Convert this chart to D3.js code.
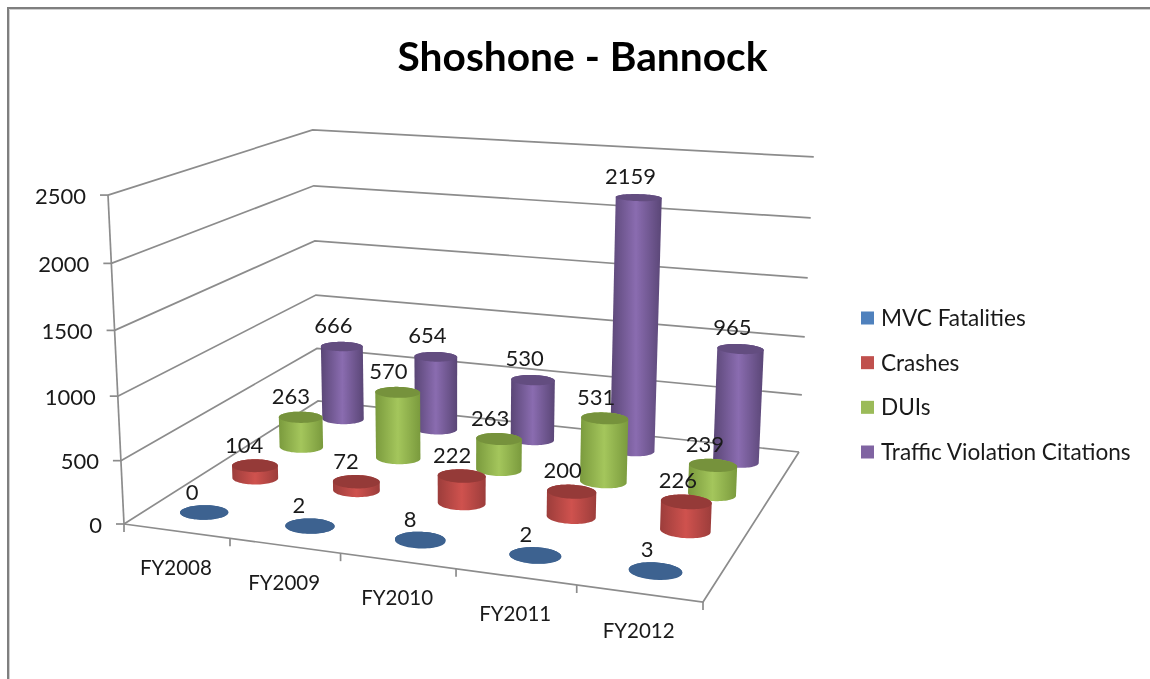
<!DOCTYPE html>
<html>
<head>
<meta charset="utf-8">
<script src="https://cdn.jsdelivr.net/npm/d3@7/dist/d3.min.js"></script>
<style>
html,body{margin:0;padding:0;background:#fff;overflow:hidden}
svg{filter:blur(0.45px)}
text{font-family:Lato,"Open Sans",sans-serif;fill:#1a1a1a}
</style>
</head>
<body>
<svg id="chart" width="1150" height="679"></svg>
<script>
const title = "Shoshone - Bannock";
const categories = ["FY2008","FY2009","FY2010","FY2011","FY2012"];
const seriesNames = ["MVC Fatalities","Crashes","DUIs","Traffic Violation Citations"];
const mvcFatalities = [0,2,8,2,3];
const crashes = [104,72,222,200,226];
const duis = [263,570,263,531,239];
const citations = [666,654,530,2159,965];
const seriesValues = [mvcFatalities,crashes,duis,citations];
const valueTicks = [0,500,1000,1500,2000,2500];
const legendColors = ["#4f81bd","#c0504d","#9bbb59","#8064a2"];
const topColors = ["#3d6290","#953a38","#76923c","#634d80"];
const edgeColors = ["#3d6290","#9c3d3b","#7a9a3d","#5a4676"];
const midColors = ["#3d6290","#cf524e","#a4c65c","#8a6cb0"];

const svg = d3.select("#chart");
const W = 1150, H = 679;

// Frame
svg.append("rect").attr("width",W).attr("height",H).attr("fill","#fff");
svg.append("path").attr("d","M9.5,679V9.5H1150").attr("fill","none").attr("stroke","#cfcfcf").attr("stroke-width",1);
svg.append("path").attr("d","M8,679V8H1150").attr("fill","none").attr("stroke","#7f7f7f").attr("stroke-width",2);

// Scales onto the unit floor and unit height of the 3D box
const uBand = d3.scaleBand().domain(categories).range([0,1]);
const vBand = d3.scaleBand().domain(seriesNames).range([0,1]);
const wScale = d3.scaleLinear().domain([0,2500]).range([0,1]);

// Camera: floor homography from box corners, plus vertical vanishing point
const P0=[124,524],P1=[703,602],P2=[799,452],P3=[318,401];
const VP=[455,7330], camI=-0.0461;
const den=(P1[0]-P2[0])*(P3[1]-P2[1])-(P3[0]-P2[0])*(P1[1]-P2[1]);
const sx=P0[0]-P1[0]+P2[0]-P3[0], sy=P0[1]-P1[1]+P2[1]-P3[1];
const g=(sx*(P3[1]-P2[1])-(P3[0]-P2[0])*sy)/den;
const h=((P1[0]-P2[0])*sy-sx*(P1[1]-P2[1]))/den;
function project(u,v,w){
  const D=1+g*u+h*v;
  const bx=P1[0]*(1+g)*u-P0[0]*u+P3[0]*(1+h)*v-P0[0]*v+P0[0];
  const by=P1[1]*(1+g)*u-P0[1]*u+P3[1]*(1+h)*v-P0[1]*v+P0[1];
  const k=camI*w;
  return [(bx+VP[0]*k)/(D+k),(by+VP[1]*k)/(D+k)];
}
const lineGen=d3.line();
const gridStroke="#8c8c8c";

// Walls, floor
const grid=svg.append("g").attr("fill","none").attr("stroke",gridStroke).attr("stroke-width",1.7);
valueTicks.forEach(t=>{
  const w=wScale(t);
  grid.append("path").attr("d",lineGen([project(0,0,w),project(0,1,w),project(1,1,w)]));
  const p=project(0,0,w);
  grid.append("path").attr("d",lineGen([[p[0]-8,p[1]],p]));
  svg.append("text").attr("x",p[0]-22).attr("y",p[1]+1).attr("dy","0.35em")
    .attr("text-anchor","end").attr("font-size",22).text(t);
});
grid.append("path").attr("d",lineGen([project(0,0,0),project(0,0,1)]));
grid.append("path").attr("d",lineGen([project(0,0,0),project(1,0,0),project(1,1,0)]));

// Category ticks and labels
d3.range(categories.length+1).forEach(i=>{
  const p=project(i/categories.length,0,0);
  grid.append("path").attr("d",lineGen([p,[p[0],p[1]+8]]));
});
categories.forEach(c=>{
  const p=project(uBand(c)+uBand.bandwidth()/2,0,0);
  svg.append("text").attr("x",p[0]-0.5).attr("y",p[1]+37).attr("dy","0.35em")
    .attr("text-anchor","middle").attr("font-size",20.5).text(c);
});

// Cylinders, back to front
const defs=svg.append("defs");
seriesNames.forEach((s,si)=>{
  const gr=defs.append("linearGradient").attr("id","cyl"+si);
  gr.append("stop").attr("offset","0").attr("stop-color",edgeColors[si]);
  gr.append("stop").attr("offset","0.5").attr("stop-color",midColors[si]);
  gr.append("stop").attr("offset","1").attr("stop-color",edgeColors[si]);
});
const ru=0.0425, rv=0.046;
const angles=d3.range(0,2*Math.PI,Math.PI/36);
function ring(uc,vc,w){return angles.map(a=>project(uc+ru*Math.cos(a),vc+rv*Math.sin(a),w));}
const marks=svg.append("g");
const labels=svg.append("g");
d3.range(seriesNames.length-1,-1,-1).forEach(si=>{
  const vc=vBand(seriesNames[si])+vBand.bandwidth()/2;
  categories.forEach((c,ci)=>{
    const uc=uBand(c)+uBand.bandwidth()/2;
    const val=seriesValues[si][ci], w=wScale(val);
    const bottom=ring(uc,vc,0), top=ring(uc,vc,w);
    const hull=d3.polygonHull(bottom.concat(top));
    marks.append("path").attr("d",lineGen(hull)+"Z").attr("fill",`url(#cyl${si})`);
    marks.append("path").attr("d",lineGen(top)+"Z").attr("fill",topColors[si]);
    const p=project(uc,vc,w);
    const near=(1-uc)*(1-vc);
    labels.append("text").attr("x",p[0]-8-5*near).attr("y",p[1]-21.5+2*near).attr("dy","0.35em")
      .attr("text-anchor","middle").attr("font-size",22).text(val);
  });
});

// Title
svg.append("text").attr("x",582.5).attr("y",57).attr("dy","0.35em").attr("text-anchor","middle")
  .attr("font-size",40.7).attr("font-weight",700).style("fill","#000").text(title);

// Legend
const legendY=d3.scalePoint().domain(seriesNames).range([318,452]);
seriesNames.forEach((s,i)=>{
  const y=legendY(s);
  svg.append("rect").attr("x",861).attr("y",y-6.5).attr("width",13).attr("height",13).attr("fill",legendColors[i]);
  svg.append("text").attr("x",881).attr("y",y).attr("dy","0.35em").attr("font-size",22.6).text(s);
});
</script>
</body>
</html>
